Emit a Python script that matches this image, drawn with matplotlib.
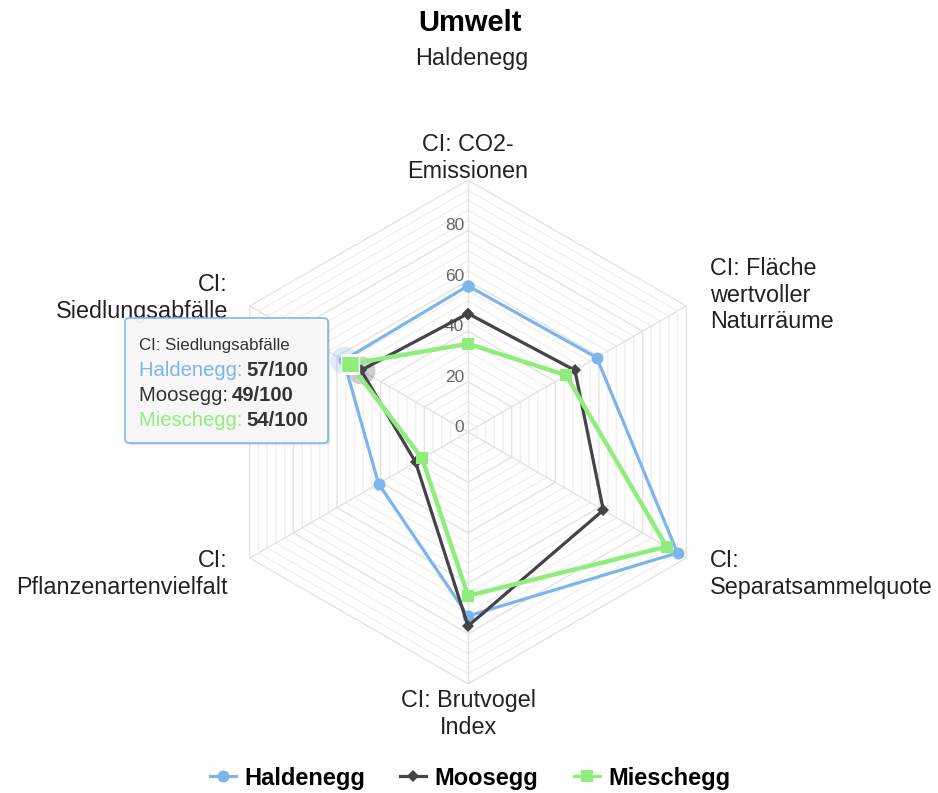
import numpy as np
import matplotlib
matplotlib.use("Agg")
import matplotlib.pyplot as plt
from matplotlib.patches import FancyBboxPatch

plt.rcParams['font.family'] = ['Liberation Sans', 'DejaVu Sans']

# Data
categories = ["CI: CO2-\nEmissionen", "CI: Fläche\nwertvoller\nNaturräume",
              "CI:\nSeparatsammelquote", "CI: Brutvogel\nIndex",
              "CI:\nPflanzenartenvielfalt", "CI:\nSiedlungsabfälle"]
tooltip_category = "CI: Siedlungsabfälle"
series_names = ["Haldenegg", "Moosegg", "Mieschegg"]
haldenegg = [58, 59, 96, 73, 41, 57]
moosegg = [47, 49, 62, 77, 24, 49]
mieschegg = [35, 45, 91, 65, 21, 54]
y_ticks = [0, 20, 40, 60, 80]
hover_index = 5

colors = ["#7cb5ec", "#434348", "#90ed7d"]
markers = ["o", "D", "s"]
msizes = [8.6, 6.2, 8.6]
widths = [2.3, 2.3, 3.2]  # hovered series (green) drawn thicker

W, H = 938, 793
fig = plt.figure(figsize=(W / 100, H / 100), dpi=100)

cx, cy, R = 468, 432, 252
ax = fig.add_axes([(cx - R) / W, (H - cy - R) / H, 2 * R / W, 2 * R / H],
                  projection="polar")
ax.set_theta_zero_location("N")
ax.set_theta_direction(-1)
ax.set_ylim(0, 100)
ax.grid(False)
ax.spines["polar"].set_visible(False)
ax.set_xticks([])
ax.set_yticks([])
ax.patch.set_alpha(0)

n = len(categories)
theta = np.arange(n) * 2 * np.pi / n
theta_c = np.append(theta, theta[0])

# polygon gridlines
for r in range(0, 101, 4):
    major = r % 20 == 0
    ax.plot(theta_c, [r] * (n + 1), color="#e3e3e3" if major else "#f0f0f0",
            lw=1.0, zorder=1)
for t in theta:
    ax.plot([t, t], [0, 100], color="#e3e3e3", lw=1.0, zorder=1)

for v in y_ticks:
    ax.annotate(str(v), xy=(0, v), xytext=(-4, -3), textcoords="offset pixels",
                ha="right", va="bottom", fontsize=12.5, color="#666666", zorder=2)

# category labels, offsets in pixels from the outer vertex
label_pos = [((0, -3), "center", "bottom"), ((24, 11), "left", "center"),
             ((24, -16), "left", "center"), ((0, -5), "center", "top"),
             ((-22, -16), "right", "center"), ((-22, 8), "right", "center")]
for t, lab, (off, ha, va) in zip(theta, categories, label_pos):
    ax.annotate(lab, xy=(t, 100), xytext=off, textcoords="offset pixels",
                ha=ha, va=va, fontsize=16.8, color="#222222", linespacing=1.2,
                multialignment=ha)

# series
all_series = [haldenegg, moosegg, mieschegg]
lines = []
for name, vals, c, m, ms, lw in zip(series_names, all_series, colors, markers,
                                    msizes, widths):
    v = np.append(vals, vals[0])
    ln, = ax.plot(theta_c, v, color=c, lw=lw, marker=m, markersize=ms,
                  markeredgewidth=0, label=name, zorder=4, clip_on=False)
    lines.append(ln)

# hover halos / state at Siedlungsabfälle
t_h = theta[hover_index]
ax.plot(t_h, haldenegg[hover_index], "o", color=colors[0], alpha=0.25,
        markersize=20, markeredgewidth=0, zorder=3)
ax.plot(t_h, moosegg[hover_index], "o", color=colors[1], alpha=0.25,
        markersize=20, markeredgewidth=0, zorder=3)
ax.plot(t_h, mieschegg[hover_index], "s", color=colors[2], markersize=13,
        markeredgecolor="white", markeredgewidth=1, zorder=6)

# title
fig.text(cx / W + 0.002, 1 - 23 / H, "Umwelt", ha="center", va="center",
         fontsize=21, fontweight="bold", color="#000000")
fig.text(cx / W + 0.004, 1 - 58 / H, "Haldenegg", ha="center", va="center",
         fontsize=16.8, color="#222222")

# legend
leg = fig.legend(handles=lines, loc="center", bbox_to_anchor=(0.501, 1 - 778 / H),
                 ncol=3, frameon=False, handlelength=1.1, handletextpad=0.35,
                 columnspacing=1.5, prop={"weight": "bold", "size": 17})
for h in leg.legend_handles:
    h.set_linewidth(2.3)

# tooltip
bx0, by0, bx1, by1 = 125, 318, 328, 443
shadow = FancyBboxPatch(((bx0 + 2) / W, 1 - (by1 + 2) / H), (bx1 - bx0) / W,
                        (by1 - by0) / H, boxstyle="round,pad=0,rounding_size=0.005",
                        transform=fig.transFigure, facecolor="#000000", alpha=0.12,
                        edgecolor="none", zorder=8)
box = FancyBboxPatch((bx0 / W, 1 - by1 / H), (bx1 - bx0) / W, (by1 - by0) / H,
                     boxstyle="round,pad=0,rounding_size=0.005",
                     transform=fig.transFigure, facecolor="#f9f9f9", alpha=0.95,
                     edgecolor=colors[0], lw=1.2, zorder=9)
fig.add_artist(shadow)
fig.add_artist(box)

fig.text(139 / W, 1 - 345 / H, tooltip_category, ha="left", va="center",
         fontsize=12.2, color="#333333", zorder=10)
renderer = fig.canvas.get_renderer()
row_y = [369, 394, 419]
for name, vals, c, yy in zip(series_names, all_series, colors, row_y):
    t1 = fig.text(139 / W, 1 - (yy + 7) / H, name + ": ", ha="left", va="baseline",
                  fontsize=14.6, color=c if c != "#434348" else "#333333", zorder=10)
    bb = t1.get_window_extent(renderer)
    fig.text(bb.x1 / W - 0.002, 1 - (yy + 7) / H, f"{vals[hover_index]}/100", ha="left",
             va="baseline", fontsize=14.6, fontweight="bold", color="#333333", zorder=10)

fig.savefig("out.png", dpi=100)
